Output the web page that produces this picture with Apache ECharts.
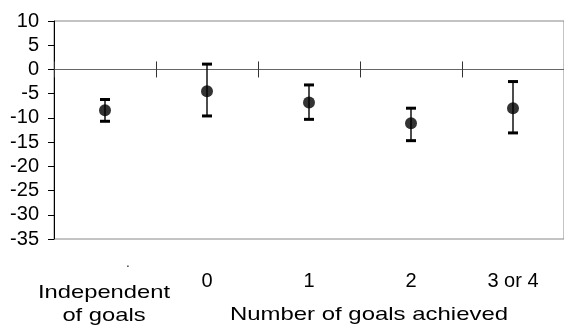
<!DOCTYPE html>
<html>
<head>
<meta charset="utf-8">
<script src="https://cdn.jsdelivr.net/npm/echarts@6/dist/echarts.min.js"></script>
<style>html,body{margin:0;padding:0;background:#fff;}#c{width:564px;height:333px;}</style>
</head>
<body>
<div id="c"></div>
<script>
var categories = ['.', '0', '1', '2', '3 or 4'];
var means = [-8.4, -4.5, -6.8, -11.1, -8.0];
var lower = [-10.7, -9.6, -10.3, -14.7, -13.1];
var upper = [-6.2, 1.1, -3.2, -8.0, -2.5];
var yTicks = { min: -35, max: 10, interval: 5 };
var groupTitles = ['Independent\nof goals', 'Number of goals achieved'];

var FONT = 'Liberation Sans, Arial, sans-serif';
var chart = echarts.init(document.getElementById('c'), null, { renderer: 'canvas' });

var gridRect = { left: 54, right: -2, top: 21, bottom: 94 };

var errData = categories.map(function (c, i) { return [i, lower[i], upper[i]]; });

chart.setOption({
  animation: false,
  backgroundColor: '#fff',
  grid: [
    Object.assign({ show: true, borderColor: '#888', borderWidth: 1, backgroundColor: 'transparent' }, gridRect),
    Object.assign({ show: false }, gridRect)
  ],
  xAxis: [
    {
      type: 'category', gridIndex: 0, data: categories, position: 'bottom', boundaryGap: true,
      axisLine: { onZero: true, onZeroAxisIndex: 0, lineStyle: { color: '#666', width: 1 } },
      axisTick: { show: true, length: 8, lineStyle: { color: '#333' } },
      axisLabel: { show: false }, splitLine: { show: false }
    },
    {
      type: 'category', gridIndex: 0, data: categories, position: 'top', boundaryGap: true,
      axisLine: { onZero: true, onZeroAxisIndex: 2, lineStyle: { color: '#666', width: 1 } },
      axisTick: { show: true, length: 8, lineStyle: { color: '#333' } },
      axisLabel: { show: false }, splitLine: { show: false }
    },
    {
      type: 'category', gridIndex: 1, data: categories, position: 'bottom', boundaryGap: true,
      axisLine: { show: false }, axisTick: { show: false }, splitLine: { show: false },
      axisLabel: {
        show: true, margin: 32, color: '#000', fontSize: 20, fontFamily: FONT,
        formatter: function (v, i) { return i === 0 ? '' : v; }
      }
    }
  ],
  yAxis: [
    {
      type: 'value', gridIndex: 0, min: yTicks.min, max: yTicks.max, interval: yTicks.interval,
      axisLine: { show: true, lineStyle: { color: '#000', width: 1 } },
      axisTick: { show: true, length: 6, lineStyle: { color: '#000' } },
      axisLabel: { color: '#000', fontSize: 20, fontFamily: FONT, margin: 15 },
      splitLine: { show: false }
    },
    {
      type: 'value', gridIndex: 1, min: yTicks.min, max: yTicks.max, interval: yTicks.interval, show: false
    },
    {
      type: 'value', gridIndex: 0, min: yTicks.min, max: yTicks.max, interval: yTicks.interval, show: false
    }
  ],
  graphic: [
    { type: 'text', x: 128, y: 258, style: { text: categories[0], textAlign: 'center', font: '12px ' + FONT, fill: '#000' } },
    { type: 'text', x: 104, y: 281, scaleX: 1.25, style: { text: groupTitles[0], textAlign: 'center', font: '19px ' + FONT, fill: '#000', lineHeight: 23 } },
    { type: 'text', x: 369, y: 305, scaleX: 1.26, style: { text: groupTitles[1], textAlign: 'center', font: '19px ' + FONT, fill: '#000' } }
  ],
  series: [
    {
      type: 'custom', xAxisIndex: 0, yAxisIndex: 0, data: errData,
      renderItem: function (params, api) {
        var x = api.value(0);
        var lo = api.coord([x, api.value(1)]);
        var hi = api.coord([x, api.value(2)]);
        var cap = 5;
        return {
          type: 'group',
          children: [
            { type: 'line', shape: { x1: lo[0], y1: lo[1], x2: hi[0], y2: hi[1] }, style: { stroke: '#000', lineWidth: 1.4 } },
            { type: 'line', shape: { x1: lo[0] - cap, y1: lo[1], x2: lo[0] + cap, y2: lo[1] }, style: { stroke: '#000', lineWidth: 3 } },
            { type: 'line', shape: { x1: hi[0] - cap, y1: hi[1], x2: hi[0] + cap, y2: hi[1] }, style: { stroke: '#000', lineWidth: 3 } }
          ]
        };
      },
      z: 2
    },
    {
      type: 'scatter', xAxisIndex: 0, yAxisIndex: 0, data: means.map(function (m, i) { return [i, m]; }),
      symbol: 'circle', symbolSize: 12, itemStyle: { color: '#000' }, z: 3
    }
  ]
});
</script>
</body>
</html>
